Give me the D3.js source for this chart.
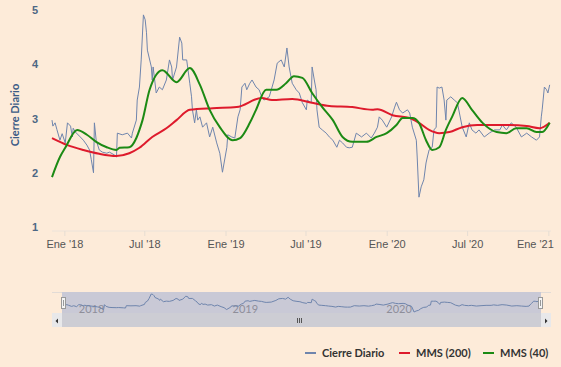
<!DOCTYPE html>
<html>
<head>
<meta charset="utf-8">
<script src="https://cdn.jsdelivr.net/npm/d3@7"></script>
<style>
  body { margin: 0; background: #fdebd9; }
  svg { font-family: Lato, "Open Sans", sans-serif; }
</style>
</head>
<body>
<script>
// daily close
var closeDates = ["2017-12-04","2017-12-06","2017-12-11","2017-12-15","2017-12-22","2017-12-27","2018-01-03","2018-01-08","2018-01-15","2018-01-19","2018-01-21","2018-01-26","2018-02-06","2018-02-13","2018-02-21","2018-02-27","2018-03-03","2018-03-08","2018-03-10","2018-03-14","2018-03-21","2018-03-28","2018-04-07","2018-04-13","2018-04-24","2018-04-29","2018-05-01","2018-05-12","2018-05-24","2018-06-02","2018-06-04","2018-06-13","2018-06-15","2018-06-20","2018-06-24","2018-06-29","2018-07-03","2018-07-06","2018-07-08","2018-07-17","2018-07-19","2018-07-21","2018-07-28","2018-08-04","2018-08-11","2018-08-20","2018-08-27","2018-09-01","2018-09-03","2018-09-12","2018-09-19","2018-09-24","2018-09-26","2018-10-05","2018-10-12","2018-10-16","2018-10-18","2018-10-23","2018-10-27","2018-10-30","2018-11-04","2018-11-10","2018-11-19","2018-11-26","2018-12-03","2018-12-12","2018-12-19","2018-12-25","2019-01-04","2019-01-06","2019-01-15","2019-01-22","2019-01-29","2019-02-03","2019-02-07","2019-02-14","2019-02-18","2019-02-25","2019-03-02","2019-03-11","2019-03-18","2019-03-24","2019-03-29","2019-04-10","2019-04-21","2019-04-28","2019-05-07","2019-05-14","2019-05-20","2019-05-25","2019-06-01","2019-06-10","2019-06-17","2019-06-24","2019-07-03","2019-07-05","2019-07-14","2019-07-16","2019-07-21","2019-07-25","2019-07-27","2019-08-01","2019-08-08","2019-08-17","2019-08-24","2019-09-01","2019-09-10","2019-09-16","2019-09-23","2019-10-02","2019-10-08","2019-10-15","2019-10-24","2019-11-05","2019-11-16","2019-11-27","2019-12-04","2019-12-11","2019-12-15","2019-12-22","2020-01-01","2020-01-12","2020-01-19","2020-01-23","2020-01-30","2020-02-06","2020-02-17","2020-02-22","2020-02-28","2020-03-08","2020-03-10","2020-03-14","2020-03-19","2020-03-25","2020-03-30","2020-04-02","2020-04-06","2020-04-13","2020-04-17","2020-04-22","2020-04-24","2020-04-29","2020-05-05","2020-05-10","2020-05-14","2020-05-16","2020-05-25","2020-06-02","2020-06-09","2020-06-20","2020-06-29","2020-07-06","2020-07-12","2020-07-21","2020-07-28","2020-08-09","2020-08-20","2020-09-01","2020-09-13","2020-09-19","2020-09-28","2020-10-09","2020-10-20","2020-11-01","2020-11-13","2020-11-24","2020-12-05","2020-12-12","2020-12-16","2020-12-18","2020-12-23","2020-12-28","2020-12-31","2021-01-04"];
var closeValues = [2.97,2.86,2.92,2.80,2.60,2.72,2.55,2.92,2.86,2.66,2.82,2.75,2.66,2.60,2.51,2.42,2.24,2.00,2.92,2.60,2.42,2.38,2.36,2.38,2.33,2.29,2.73,2.70,2.73,2.64,2.73,2.97,3.34,3.58,4.08,4.91,4.82,4.58,4.26,3.95,3.71,3.95,3.47,3.58,3.53,3.71,4.08,3.95,3.71,3.95,4.50,4.39,4.08,4.08,3.65,3.40,3.16,2.92,3.16,2.97,3.03,2.84,2.92,2.66,2.84,2.55,2.36,2.01,2.47,2.70,2.66,2.64,3.03,3.16,3.58,3.65,3.53,3.65,3.71,3.58,3.53,3.40,3.34,3.40,3.71,4.02,4.08,3.95,4.30,3.95,3.65,3.53,3.47,3.29,3.16,3.34,3.29,3.95,3.71,3.53,3.16,2.84,2.79,2.73,2.66,2.60,2.47,2.60,2.55,2.47,2.46,2.47,2.73,2.66,2.73,2.64,2.73,2.84,3.03,2.97,2.84,3.03,3.21,3.30,3.16,3.10,3.16,3.10,2.84,2.60,2.29,1.55,1.74,1.87,2.18,2.29,2.42,2.47,2.79,2.84,3.58,3.56,3.58,3.34,2.97,3.34,3.40,3.34,3.29,2.84,2.66,2.92,2.79,2.73,2.79,2.66,2.73,2.79,2.79,2.88,2.79,2.92,2.84,2.66,2.73,2.66,2.60,2.66,3.03,3.16,3.58,3.53,3.47,3.62];

// MMS (200)
var mms200Dates = ["2017-12-04","2018-01-08","2018-02-13","2018-03-21","2018-04-29","2018-05-28","2018-06-20","2018-07-19","2018-08-20","2018-09-12","2018-10-12","2018-12-03","2019-01-26","2019-03-24","2019-04-16","2019-06-01","2019-07-16","2019-08-24","2019-10-15","2019-11-29","2019-12-11","2020-01-14","2020-02-22","2020-03-14","2020-04-06","2020-04-29","2020-05-22","2020-06-20","2020-07-24","2020-08-28","2020-10-05","2020-11-13","2020-12-12","2021-01-04"];
var mms200Values = [2.64,2.51,2.42,2.35,2.31,2.36,2.46,2.66,2.82,2.97,3.16,3.19,3.21,3.38,3.34,3.36,3.29,3.23,3.21,3.16,3.17,3.06,3.01,2.92,2.79,2.73,2.75,2.84,2.88,2.88,2.88,2.86,2.82,2.92];

// MMS (40)
var mms40Dates = ["2017-12-04","2017-12-22","2018-01-03","2018-01-30","2018-02-21","2018-03-14","2018-04-07","2018-04-29","2018-05-06","2018-05-28","2018-06-13","2018-06-20","2018-06-27","2018-07-13","2018-08-11","2018-09-12","2018-10-12","2018-11-04","2018-11-26","2018-12-19","2019-01-17","2019-02-03","2019-02-25","2019-03-11","2019-04-03","2019-04-26","2019-05-18","2019-06-05","2019-06-24","2019-07-16","2019-08-08","2019-09-01","2019-09-23","2019-10-15","2019-11-16","2019-12-09","2020-01-01","2020-01-23","2020-02-06","2020-02-28","2020-03-14","2020-03-30","2020-04-13","2020-04-29","2020-05-14","2020-05-28","2020-06-20","2020-07-12","2020-08-05","2020-09-06","2020-09-28","2020-10-20","2020-11-13","2020-12-05","2020-12-18","2021-01-04"];
var mms40Values = [1.92,2.29,2.46,2.79,2.70,2.57,2.47,2.42,2.46,2.47,2.64,2.79,2.97,3.53,3.89,3.67,3.93,3.62,3.16,2.84,2.60,2.64,2.92,3.16,3.53,3.53,3.65,3.78,3.75,3.47,3.21,2.97,2.66,2.57,2.57,2.66,2.73,2.88,3.01,3.01,2.92,2.60,2.42,2.47,2.79,3.03,3.38,3.16,2.92,2.75,2.73,2.82,2.82,2.75,2.75,2.92];

var yTicks = [1, 2, 3, 4, 5];
var xTickDates = ["2018-01-01","2018-07-01","2019-01-01","2019-07-01","2020-01-01","2020-07-01","2021-01-01"];
var xTickLabels = ["Ene '18","Jul '18","Ene '19","Jul '19","Ene '20","Jul '20","Ene '21"];
var navTickDates = ["2018-01-01","2019-01-01","2020-01-01"];
var navTickLabels = ["2018","2019","2020"];
var seriesNames = ["Cierre Diario", "MMS (200)", "MMS (40)"];
var seriesColors = ["#6f85ad", "#de1a2c", "#1c8a14"];

var width = 561;
var height = 367;
var parse = d3.timeParse("%Y-%m-%d");

var zip = function(dates, values){
	return dates.map(function(d, i){ return {date: parse(d), value: values[i]}; });
};
var closeData = zip(closeDates, closeValues);
var mms200Data = zip(mms200Dates, mms200Values);
var mms40Data = zip(mms40Dates, mms40Values);

var svg = d3.select("body").append("svg")
	.attr("width", width)
	.attr("height", height);

var x = d3.scaleTime()
	.domain([parse("2017-12-04"), parse("2021-01-07")])
	.range([52, 551]);
var y = d3.scaleLinear()
	.domain([1, 5])
	.range([227, 10]);

// axis line at the bottom of the plot
svg.append("line")
	.attr("x1", 52).attr("x2", 551)
	.attr("y1", 231).attr("y2", 231)
	.attr("stroke", "#ece3da");

var xAxis = svg.append("g")
	.attr("transform", "translate(0,231)")
	.call(d3.axisBottom(x)
		.tickValues(xTickDates.map(parse))
		.tickSize(5)
		.tickPadding(4)
		.tickFormat(function(d, i){ return xTickLabels[i]; }));
xAxis.select(".domain").remove();
xAxis.selectAll("line").attr("stroke", "#e6ddd3");
xAxis.selectAll("text")
	.attr("fill", "#555")
	.style("font-size", "11px");
// last label would overflow the edge, so keep it inside like the original
xAxis.selectAll("text")
	.filter(function(d, i){ return i === xTickLabels.length - 1; })
	.attr("text-anchor", "end")
	.attr("dx", "5");

var yAxis = svg.append("g")
	.attr("transform", "translate(38,0)")
	.call(d3.axisLeft(y).tickValues(yTicks).tickSize(0).tickPadding(0).tickFormat(d3.format("d")));
yAxis.select(".domain").remove();
yAxis.selectAll("text")
	.attr("fill", "#4d6784")
	.style("font-size", "11px")
	.style("font-weight", "bold");

svg.append("text")
	.attr("transform", "translate(19,115) rotate(-90)")
	.attr("text-anchor", "middle")
	.attr("fill", "#3b5b86")
	.style("font-size", "11px")
	.style("font-weight", "bold")
	.text("Cierre Diario");

var line = d3.line()
	.x(function(d){ return x(d.date); })
	.y(function(d){ return y(d.value); });
var smooth = d3.line()
	.curve(d3.curveMonotoneX)
	.x(function(d){ return x(d.date); })
	.y(function(d){ return y(d.value); });

svg.append("path").datum(closeData)
	.attr("d", line)
	.attr("fill", "none")
	.attr("stroke", seriesColors[0])
	.attr("stroke-width", 1);
svg.append("path").datum(mms200Data)
	.attr("d", smooth)
	.attr("fill", "none")
	.attr("stroke", seriesColors[1])
	.attr("stroke-width", 2);
svg.append("path").datum(mms40Data)
	.attr("d", smooth)
	.attr("fill", "none")
	.attr("stroke", seriesColors[2])
	.attr("stroke-width", 2);

// navigator
var nav = svg.append("g");
nav.append("line")
	.attr("x1", 52).attr("x2", 551)
	.attr("y1", 292.5).attr("y2", 292.5)
	.attr("stroke", "#e2dbd6");
nav.append("rect")
	.attr("x", 62).attr("y", 292)
	.attr("width", 479).attr("height", 21)
	.attr("fill", "#c9c9d6");
nav.append("rect")
	.attr("x", 52).attr("y", 313)
	.attr("width", 499).attr("height", 14)
	.attr("fill", "#cdcdd4");

var nx = d3.scaleTime().domain(x.domain()).range([64, 540]);
var ny = d3.scaleLinear().domain(d3.extent(closeValues)).range([312, 294]);

nav.selectAll("text.nav")
	.data(navTickDates)
	.enter().append("text")
	.attr("class", "nav")
	.attr("x", function(d){ return nx(parse(d)) + 3; })
	.attr("y", 313)
	.attr("fill", "#8e8e99")
	.style("font-size", "11px")
	.text(function(d, i){ return navTickLabels[i]; });

nav.append("path").datum(closeData)
	.attr("d", d3.line()
		.x(function(d){ return nx(d.date); })
		.y(function(d){ return ny(d.value); }))
	.attr("fill", "none")
	.attr("stroke", "#6f85ad")
	.attr("stroke-width", 1);

// handles
[61, 538].forEach(function(hx){
	nav.append("rect")
		.attr("x", hx + 0.5).attr("y", 297.5)
		.attr("width", 4).attr("height", 11)
		.attr("fill", "#f4f4f4")
		.attr("stroke", "#999");
	nav.append("line")
		.attr("x1", hx + 2.5).attr("x2", hx + 2.5)
		.attr("y1", 300).attr("y2", 306)
		.attr("stroke", "#999");
});

// scrollbar buttons and grip
nav.append("rect")
	.attr("x", 52).attr("y", 313)
	.attr("width", 10).attr("height", 14)
	.attr("fill", "#e8e8ea");
nav.append("rect")
	.attr("x", 541).attr("y", 313)
	.attr("width", 10).attr("height", 14)
	.attr("fill", "#e8e8ea");
nav.append("path")
	.attr("d", "M55.5,321 L58,318.5 L58,323.5 Z")
	.attr("fill", "#333");
nav.append("path")
	.attr("d", "M547.5,321 L545,318.5 L545,323.5 Z")
	.attr("fill", "#333");
[297, 299, 301].forEach(function(gx){
	nav.append("line")
		.attr("x1", gx + 0.5).attr("x2", gx + 0.5)
		.attr("y1", 318).attr("y2", 323)
		.attr("stroke", "#555");
});

// legend
var legendX = [305, 399, 483];
var legend = svg.selectAll("g.legend")
	.data(seriesNames)
	.enter().append("g")
	.attr("class", "legend")
	.attr("transform", function(d, i){ return "translate(" + legendX[i] + ",353)"; });
legend.append("line")
	.attr("x1", 0).attr("x2", 11)
	.attr("stroke", function(d, i){ return seriesColors[i]; })
	.attr("stroke-width", 2);
legend.append("text")
	.attr("x", 17)
	.attr("dy", "0.35em")
	.attr("fill", "#333")
	.style("font-size", "11px")
	.style("font-weight", "bold")
	.text(function(d){ return d; });
</script>
</body>
</html>
